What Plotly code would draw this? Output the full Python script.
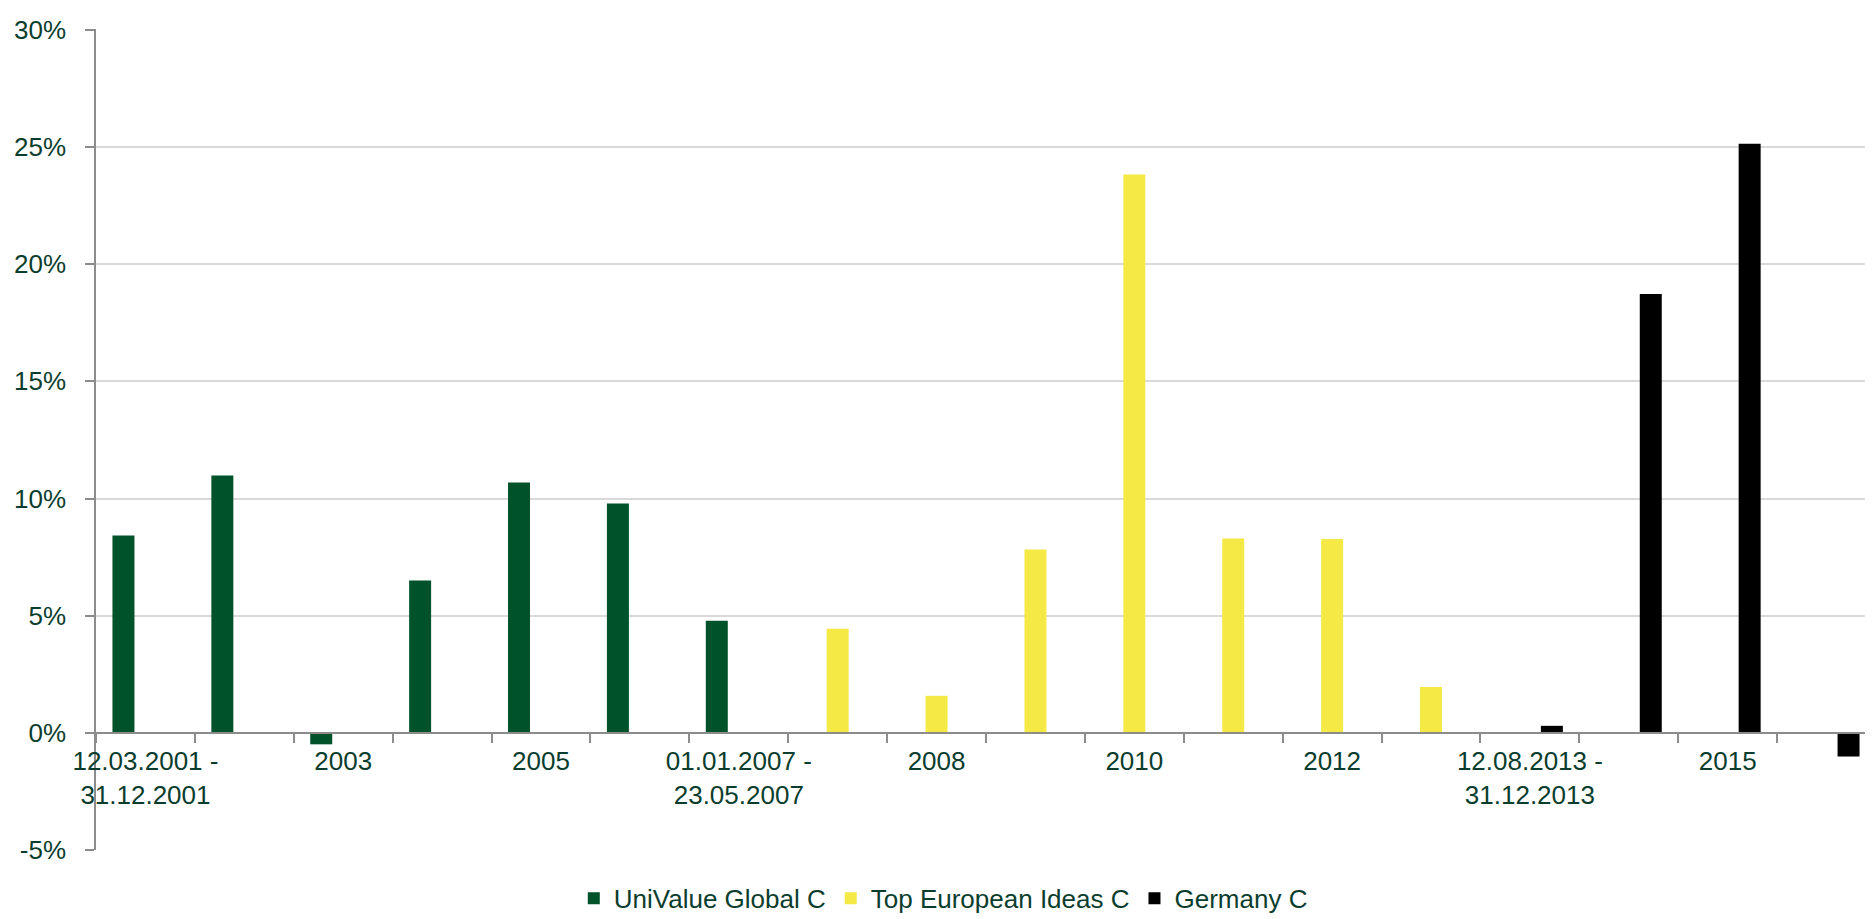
import plotly.graph_objects as go

categories = [
    "12.03.2001 - 31.12.2001", "2002", "2003", "2004", "2005", "2006",
    "01.01.2007 - 23.05.2007", "24.05.2007 - 31.12.2007", "2008", "2009",
    "2010", "2011", "2012", "01.01.2013 - 11.08.2013",
    "12.08.2013 - 31.12.2013", "2014", "2015", "2016",
]
tick_labels = [
    "12.03.2001 -<br>31.12.2001", "", "2003", "", "2005", "",
    "01.01.2007 -<br>23.05.2007", "", "2008", "", "2010", "", "2012", "",
    "12.08.2013 -<br>31.12.2013", "", "2015", "",
]
univalue_global = [8.42, 10.98, -0.49, 6.50, 10.69, 9.79, 4.78,
                   None, None, None, None, None, None, None, None, None, None, None]
top_european = [None, None, None, None, None, None, None,
                4.44, 1.58, 7.82, 23.83, 8.29, 8.27, 1.96, None, None, None, None]
germany = [None] * 14 + [0.30, 18.73, 25.14, -1.01]

series_names = ["UniValue Global C", "Top European Ideas C", "Germany C"]
colors = ["#00522A", "#F5E946", "#000000"]

y_ticks = [-5, 0, 5, 10, 15, 20, 25, 30]
y_ticktext = ["-5%", "0%", "5%", "10%", "15%", "20%", "25%", "30%"]

text_color = "#0B3D2E"
axis_color = "#8C8C8C"
font_family = "Liberation Sans, Arial, sans-serif"
fs = 26

fig = go.Figure()
for name, vals, col in zip(series_names, [univalue_global, top_european, germany], colors):
    fig.add_trace(go.Bar(x=categories, y=vals, name=name,
                         marker=dict(color=col, line=dict(width=0))))

y_min, y_max = -5, 30.04
fig.update_layout(
    width=1873, height=919,
    margin=dict(l=88, r=5, t=21, b=67),
    paper_bgcolor="white", plot_bgcolor="white",
    font=dict(family=font_family, size=fs, color=text_color),
    barmode="group", bargap=0.333, bargroupgap=0,
    showlegend=True,
    legend=dict(orientation="h", x=0.476, xanchor="center", y=-0.059, yanchor="middle",
                font=dict(size=fs, color=text_color), traceorder="normal",
                itemclick=False, bgcolor="rgba(0,0,0,0)"),
    xaxis=dict(
        type="category", anchor="free", position=(0 - y_min) / (y_max - y_min),
        showline=True, linecolor=axis_color, linewidth=1.5,
        tickmode="array", tickvals=categories, ticktext=tick_labels,
        tickson="boundaries", ticks="outside", ticklen=9, tickcolor=axis_color, tickwidth=1.5,
        showgrid=False, zeroline=False, automargin=False,
        tickfont=dict(size=fs, color=text_color), tickangle=0,
        ticklabelstandoff=5, ticklabeloverflow="allow",
    ),
    yaxis=dict(
        range=[y_min, y_max], tickmode="array", tickvals=y_ticks, ticktext=y_ticktext,
        showgrid=True, gridcolor="#D9D9D9", gridwidth=1.5,
        showline=True, linecolor=axis_color, linewidth=1.5,
        ticks="outside", ticklen=9, tickcolor=axis_color, tickwidth=1.5,
        zeroline=False, automargin=False, tickfont=dict(size=fs, color=text_color),
        ticklabelstandoff=14, ticklabeloverflow="allow",
    ),
)

fig.write_html("out.html")
